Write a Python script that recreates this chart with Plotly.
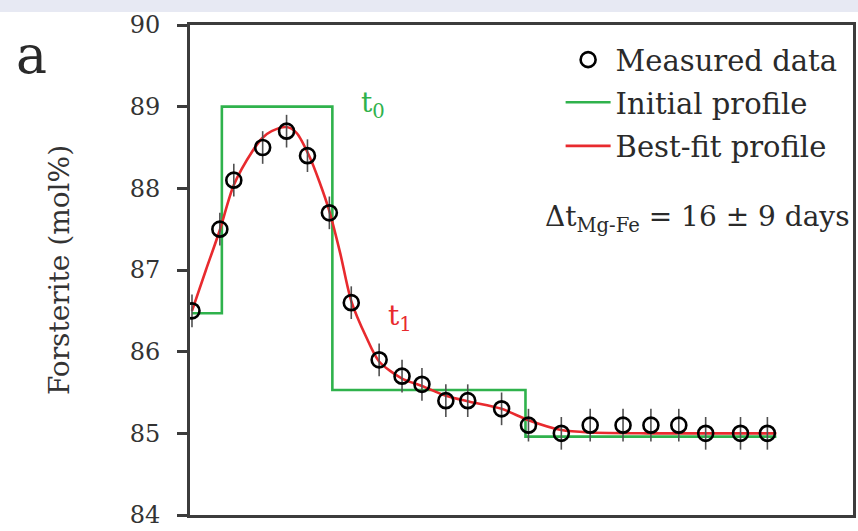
import plotly.graph_objects as go

# Measured olivine profile: distance along traverse (µm) and forsterite content (mol%)
dist_um = [0.4, 6.0, 8.8, 14.6, 19.4, 23.6, 28.0, 32.4, 38.0, 42.6, 46.6, 51.4,
           55.8, 62.6, 68.0, 74.6, 80.4, 87.0, 92.6, 98.2, 103.6, 110.6, 116.0]
fo_meas = [86.5, 87.5, 88.1, 88.5, 88.7, 88.4, 87.7, 86.6, 85.9, 85.7, 85.6, 85.4,
           85.4, 85.3, 85.1, 85.0, 85.1, 85.1, 85.1, 85.1, 85.0, 85.0, 85.0]
fo_err = [0.2] * len(dist_um)

# Initial (t0) step profile: breakpoints and plateau levels
init_x = [0.4, 6.4, 28.6, 67.4, 117.8]
init_y = [86.47, 89.0, 85.53, 84.96, 84.96]

# Best-fit diffusion profile (t1)
fit_x = [0.4, 3.2, 6.0, 8.8, 12.6, 14.6, 16.4, 19.4, 21.4, 24.0, 26.0, 28.0, 30.2,
         32.4, 35.4, 38.0, 42.6, 46.6, 51.4, 56.0, 62.6, 68.0, 74.6, 80.6, 92.0, 117.8]
fit_y = [86.5, 87.0, 87.49, 88.04, 88.46, 88.62, 88.70, 88.75, 88.68, 88.39, 88.08,
         87.72, 87.2, 86.62, 86.18, 85.88, 85.67, 85.58, 85.46, 85.39, 85.30, 85.16,
         85.04, 85.01, 85.0, 85.0]

y_ticks = [84, 85, 86, 87, 88, 89, 90]

SERIF = "DejaVu Serif"
AXIS_COL = "#3c3c3c"
TEXT_COL = "#2a2a2a"
GREEN = "#2fb24c"
RED = "#e82a2e"

fig = go.Figure()

fig.add_trace(go.Scatter(
    x=init_x, y=init_y, mode="lines", name="Initial profile",
    line=dict(color=GREEN, width=2.6, shape="hv"), legend="legend2",
))
fig.add_trace(go.Scatter(
    x=fit_x, y=fit_y, mode="lines", name="Best-fit profile",
    line=dict(color=RED, width=2.6, shape="spline", smoothing=0.8), legend="legend3",
))
fig.add_trace(go.Scatter(
    x=dist_um, y=fo_meas, mode="markers", name="Measured data",
    marker=dict(symbol="circle-open", size=15, color="black", line=dict(width=2.6)),
    error_y=dict(type="data", array=fo_err, color="#505050", thickness=1.6, width=0),
    legend="legend",
))

# Step and time labels
fig.add_annotation(x=34, y=89.03, xref="x", yref="y", text="t<sub>0</sub>",
                   showarrow=False, xanchor="left", yanchor="middle",
                   font=dict(family=SERIF, size=28, color=GREEN))
fig.add_annotation(x=39.4, y=86.42, xref="x", yref="y", text="t<sub>1</sub>",
                   showarrow=False, xanchor="left", yanchor="middle",
                   font=dict(family=SERIF, size=28, color=RED))

# Diffusion timescale
fig.add_annotation(x=0.999, y=0.606, xref="paper", yref="paper",
                   text="Δt<sub>Mg-Fe</sub> = 16 ± 9 days",
                   showarrow=False, xanchor="right", yanchor="middle",
                   font=dict(family=SERIF, size=28, color=TEXT_COL))

# Panel letter
fig.add_annotation(x=-0.266, y=1.004, xref="paper", yref="paper", text="a",
                   showarrow=False, xanchor="left", yanchor="top",
                   font=dict(family=SERIF, size=52, color=TEXT_COL))

# Header band
fig.add_shape(type="rect", xref="paper", yref="paper",
              x0=-0.3, x1=1.01, y0=1.0263, y1=1.06,
              fillcolor="#e7e9f3", line=dict(width=0), layer="below")

legend_style = dict(xanchor="left", yanchor="middle", bgcolor="rgba(0,0,0,0)",
                    font=dict(family=SERIF, size=29, color=TEXT_COL),
                    itemwidth=45, borderwidth=0)

fig.update_layout(
    width=858, height=531,
    margin=dict(l=190, r=2, t=25, b=11),
    paper_bgcolor="white", plot_bgcolor="white",
    font=dict(family=SERIF, color=TEXT_COL),
    showlegend=True,
    legend=dict(x=0.559, y=0.929, **legend_style),
    legend2=dict(x=0.559, y=0.842, **legend_style),
    legend3=dict(x=0.559, y=0.753, **legend_style),
    xaxis=dict(range=[0, 133.2], showticklabels=False, ticks="", showgrid=False,
               zeroline=False, showline=True, linecolor=AXIS_COL, linewidth=3, mirror=True),
    yaxis=dict(range=[84, 90], tickvals=y_ticks, ticks="outside", ticklen=10,
               tickwidth=2.5, tickcolor=AXIS_COL, showgrid=False, zeroline=False,
               showline=True, linecolor=AXIS_COL, linewidth=3, mirror=True,
               tickfont=dict(family=SERIF, size=24, color="#333333"),
               ticklabelstandoff=12, ticklabeloverflow="allow",
               title=dict(text="Forsterite (mol%)", standoff=52,
                          font=dict(family=SERIF, size=28, color="#333333"))),
)

fig.write_html("out.html")
